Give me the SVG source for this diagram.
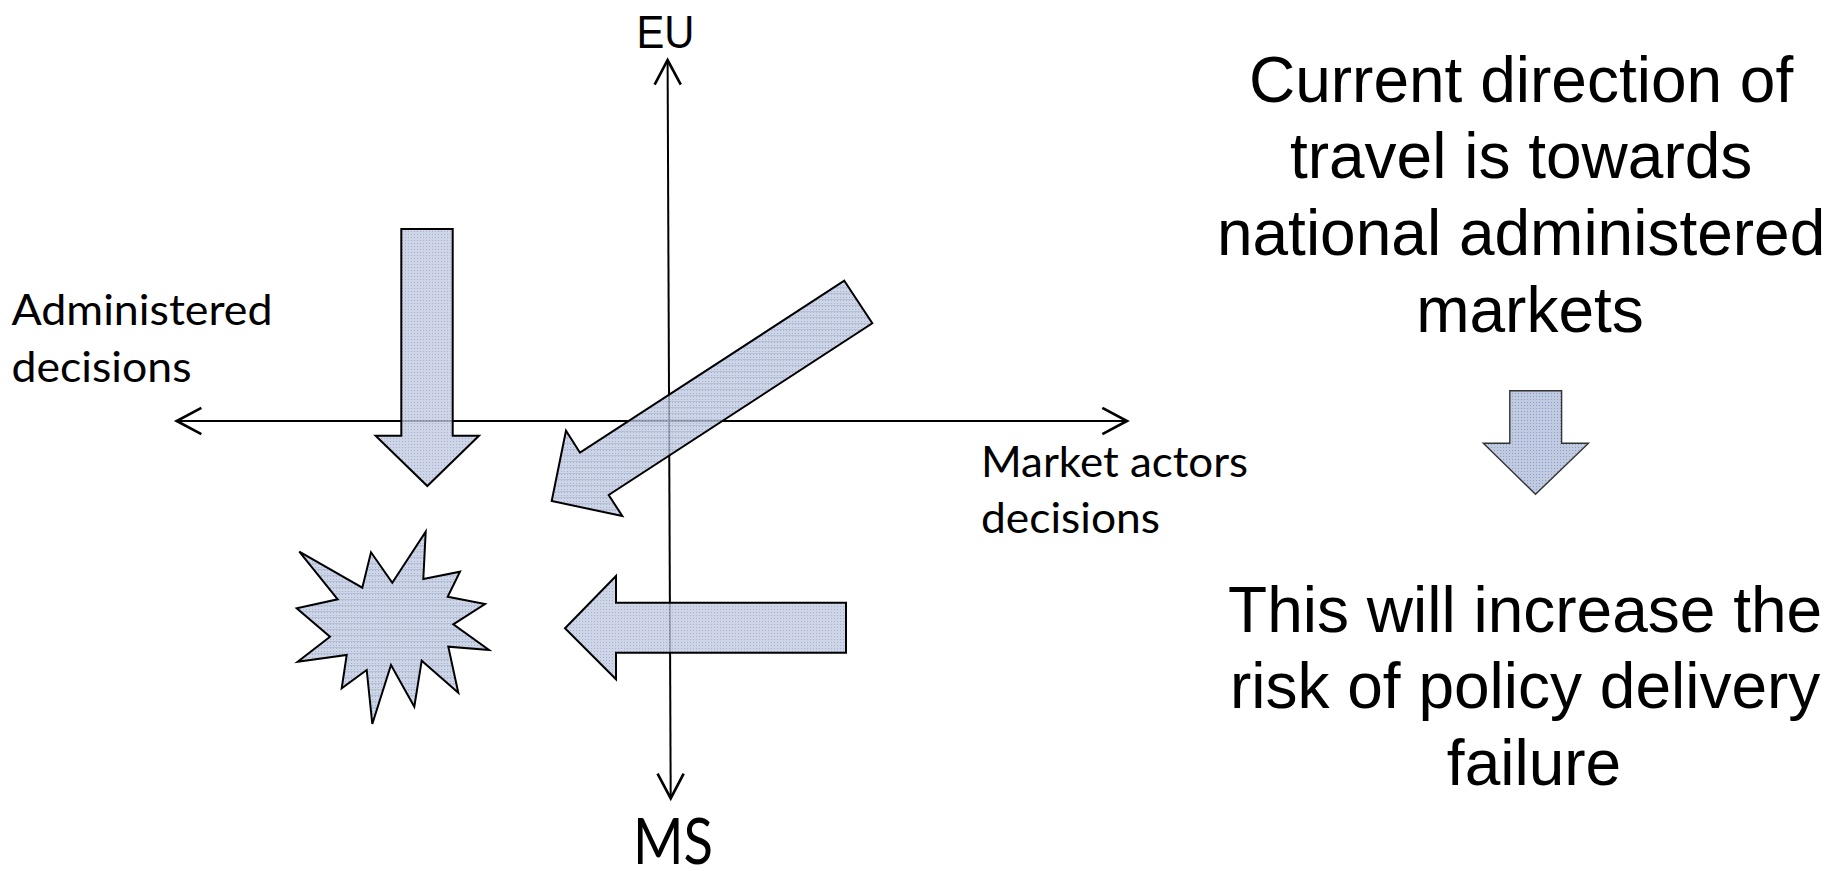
<svg xmlns="http://www.w3.org/2000/svg" width="1836" height="871" viewBox="0 0 1836 871">
  <style>
    .axis { stroke: #000; stroke-width: 2; fill: none; }
    .shape { stroke: #000; stroke-width: 2; stroke-linejoin: miter; fill-opacity: 0.8; }
    .dotfill { fill: url(#dots); }
    .stripefill { fill: url(#stripes); }
    .small { stroke: #333; stroke-width: 1.4; fill: url(#dots); }
    .label { font-family: Lato, "Liberation Sans", sans-serif; fill: #000; }
    .pole { font-family: "Liberation Sans", Arial, sans-serif; fill: #000; }
    .note { font-family: "Liberation Sans", Arial, sans-serif; font-size: 64px; fill: #000; text-anchor: middle; }
  </style>
  <defs>
    <!-- fine dotted blue-grey fill -->
    <pattern id="dots" width="3" height="3" patternUnits="userSpaceOnUse">
      <rect width="3" height="3" fill="#c0cae1"/>
      <rect width="1" height="1" fill="#8f9ec2"/>
    </pattern>
    <!-- dotted fill with faint horizontal bands -->
    <pattern id="stripes" width="6" height="6" patternUnits="userSpaceOnUse">
      <rect width="6" height="6" fill="#c0cae1"/>
      <rect x="0" y="0" width="1" height="1" fill="#8f9ec2"/>
      <rect x="3" y="0" width="1" height="1" fill="#8f9ec2"/>
      <rect x="0" y="3" width="1" height="1" fill="#8f9ec2"/>
      <rect x="3" y="3" width="1" height="1" fill="#8f9ec2"/>
      <rect x="0" y="5" width="6" height="1" fill="#a3b0cf"/>
    </pattern>
    <marker id="openhead" markerUnits="userSpaceOnUse" markerWidth="40" markerHeight="40"
            refX="0" refY="0" viewBox="-25 -15 30 30" orient="auto-start-reverse" overflow="visible">
      <path d="M -18.5 -9.8 L 0 0 L -18.5 9.8" fill="none" stroke="#000" stroke-width="2"/>
    </marker>
  </defs>

  <rect width="1836" height="871" fill="#ffffff"/>

  <!-- axes -->
  <g id="connectors">
    <line id="axis-vertical" class="axis" x1="667.6" y1="60" x2="670.7" y2="798.3"
          marker-start="url(#openhead)" marker-end="url(#openhead)"/>
    <line id="axis-horizontal" class="axis" x1="176.7" y1="421" x2="1127" y2="421"
          marker-start="url(#openhead)" marker-end="url(#openhead)"/>
  </g>

  <!-- block arrows and burst -->
  <g id="arrow-down">
    <polygon class="shape dotfill"
             points="401.3,229 452.7,229 452.7,435.7 479,435.7 427.3,486 375.6,435.7 401.3,435.7"/>
  </g>
  <g id="arrow-diagonal">
    <polygon class="shape stripefill"
             points="844.3,280.7 872.3,323.3 608.7,495 622.3,516 551.7,501 566,430.7 580,452.7"/>
  </g>
  <g id="arrow-left">
    <polygon class="shape dotfill"
             points="846,602.7 846,652.7 616,652.7 616,679.3 565,628.3 616,576 616,602.7"/>
  </g>
  <g id="burst">
    <polygon class="shape stripefill"
             points="299.3,551.7 362.3,587.7 371,552.3 392.3,582.7 425.7,531.7 423.3,579 460,571.7 447.7,596.7 485,604 453.3,624.3 489,650 448.3,646.7 458.3,692.7 421.7,660.7 414.3,706.7 391,665 372.3,724 366.7,670 341.7,688.3 346.7,655 297.7,661.7 330,636.7 296.7,608.3 337.7,599.3"/>
  </g>

  <!-- axis labels -->
  <g id="label-eu">
    <text class="pole" x="636.5" y="48.3" font-size="46" textLength="58" lengthAdjust="spacingAndGlyphs">EU</text>
  </g>
  <g id="label-ms">
    <text class="label" x="633" y="864" font-size="63" textLength="80" lengthAdjust="spacingAndGlyphs">MS</text>
  </g>
  <g id="label-administered">
    <text class="label" font-size="42">
      <tspan x="11.5" y="325" textLength="261" lengthAdjust="spacingAndGlyphs">Administered</tspan>
      <tspan x="11.5" y="381.7" textLength="180" lengthAdjust="spacingAndGlyphs">decisions</tspan>
    </text>
  </g>
  <g id="label-market">
    <text class="label" font-size="42">
      <tspan x="981" y="476.7" textLength="267" lengthAdjust="spacingAndGlyphs">Market actors</tspan>
      <tspan x="981" y="532.7" textLength="179" lengthAdjust="spacingAndGlyphs">decisions</tspan>
    </text>
  </g>

  <!-- right-hand statement -->
  <g id="statement-direction">
    <text class="note">
      <tspan x="1530" y="101.7">Current direction of</tspan>
      <tspan x="1530" y="178.3">travel is towards</tspan>
      <tspan x="1530" y="255">national administered</tspan>
      <tspan x="1530" y="331.7">markets</tspan>
    </text>
  </g>
  <g id="arrow-consequence">
    <polygon class="small"
             points="1509.8,390.7 1561.6,390.7 1561.6,443.3 1588.5,443.3 1535.5,494.3 1483.3,443.3 1509.8,443.3"/>
  </g>
  <g id="statement-risk">
    <text class="note">
      <tspan x="1534" y="631.7">This will increase the</tspan>
      <tspan x="1534" y="708">risk of policy delivery</tspan>
      <tspan x="1534" y="784.6">failure</tspan>
    </text>
  </g>
</svg>
